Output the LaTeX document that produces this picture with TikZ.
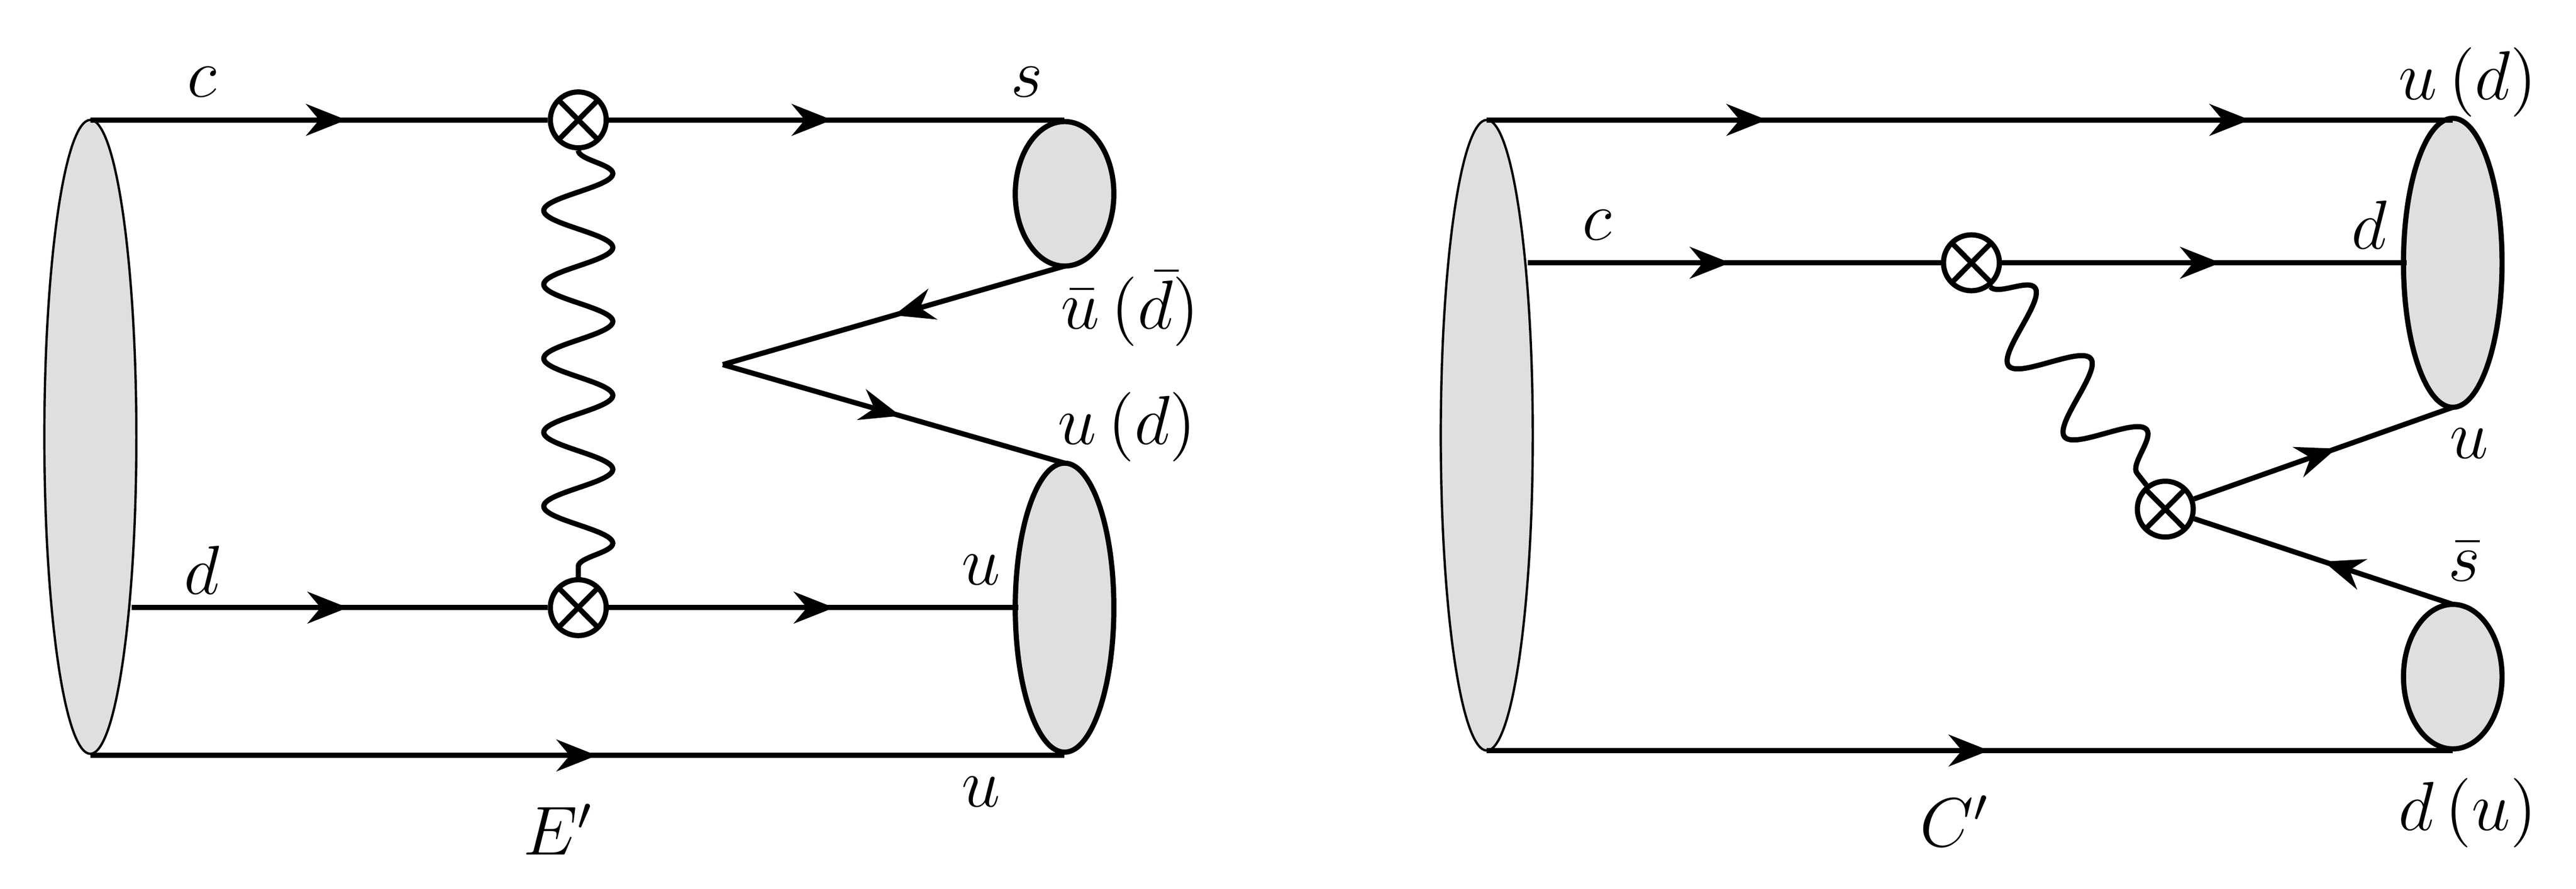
\documentclass[tikz,border=0pt]{standalone}
\usetikzlibrary{arrows.meta,decorations.markings,decorations.pathmorphing}
\begin{document}
\begin{tikzpicture}[x=0.01cm,y=-0.01cm,
  fer/.style={line width=0.9pt},
  arrat/.style={postaction={decorate,decoration={markings,mark=at position #1 with {\arrow{Stealth[length=7pt,width=5.5pt]}}}}},
  blob/.style={fill=gray!25,draw,line width=0.9pt},
  bigblob/.style={fill=gray!25,draw,line width=0.4pt},
  vtx/.style={circle,draw,fill=white,line width=0.9pt,minimum size=0.34cm,inner sep=0pt,
    path picture={\draw[line width=0.9pt] (path picture bounding box.north west)++(0.07,-0.07) -- ([shift={(-0.07,0.07)}]path picture bounding box.south east)
      ([shift={(0.07,0.07)}]path picture bounding box.south west) -- ([shift={(-0.07,-0.07)}]path picture bounding box.north east);}},
  wave/.style={line width=0.9pt,decorate,decoration={snake,amplitude=0.21cm,segment length=#1}},
  lab/.style={font=\fontsize{12}{14}\selectfont,inner sep=1pt}]
\useasboundingbox (0,0) rectangle (1568,541);
% ---- left ----
\filldraw[bigblob] (55,266) ellipse [x radius=28,y radius=193];
\filldraw[blob] (648,118) ellipse [x radius=30,y radius=44];
\filldraw[blob] (648,370) ellipse [x radius=30,y radius=88];
\coordinate (L1) at (55,73); \coordinate (R1) at (648,73);
\coordinate (L2) at (80,370); \coordinate (R2) at (620,370);
\coordinate (L3) at (55,460); \coordinate (R3) at (648,460);
\coordinate (S1) at (648,162); \coordinate (T) at (440,222); \coordinate (S2) at (648,282);
\node[vtx] (X1) at (352,73) {};
\node[vtx] (X2) at (352,370) {};
\draw[wave=0.45cm] (X1) -- (X2);
\draw[fer,arrat=0.56] (L1) -- (X1);
\draw[fer,arrat=0.49] (X1) -- (R1);
\draw[fer,arrat=0.52] (L2) -- (X2);
\draw[fer,arrat=0.55] (X2) -- (R2);
\draw[fer,arrat=0.52] (L3) -- (R3);
\draw[fer,arrat=0.5] (S1) -- (T);
\draw[fer,arrat=0.52] (T) -- (S2);
\node[lab] (lc) at (123,50) {$c$};
\node[lab] (ls) at (625,50) {$s$};
\node[lab] (lub) at (688,188) {$\bar u\,(\bar d)$};
\node[lab] (lud) at (686,260) {$u\,(d)$};
\node[lab] (ld) at (123,347) {$d$};
\node[lab] (lu) at (597,347) {$u$};
\node[lab] (lu2) at (597,482) {$u$};
\node[lab] (lE) at (340,505) {$E'$};
% ---- right ----
\filldraw[bigblob] (905,265) ellipse [x radius=28,y radius=192];
\filldraw[blob] (1493,160) ellipse [x radius=30,y radius=88];
\filldraw[blob] (1493,412) ellipse [x radius=30,y radius=44];
\coordinate (a1) at (905,73); \coordinate (b1) at (1493,73);
\coordinate (a2) at (930,160); \coordinate (b2) at (1465,160);
\coordinate (a3) at (905,457); \coordinate (b3) at (1493,457);
\coordinate (p1) at (1493,248); \coordinate (p2) at (1493,368);
\node[vtx] (Y1) at (1200,160) {};
\node[vtx] (Y2) at (1318,310) {};
\draw[wave=0.55cm] (Y1) -- (Y2);
\draw[fer,arrat=0.29,arrat=0.79] (a1) -- (b1);
\draw[fer,arrat=0.49] (a2) -- (Y1);
\draw[fer,arrat=0.54] (Y1) -- (b2);
\draw[fer,arrat=0.52] (a3) -- (b3);
\draw[fer,arrat=0.55] (Y2) -- (p1);
\draw[fer,arrat=0.5] (p2) -- (Y2);
\node[lab] (rud) at (1502,50) {$u\,(d)$};
\node[lab] (rc) at (972,137) {$c$};
\node[lab] (rd) at (1442,137) {$d$};
\node[lab] (ru) at (1503,270) {$u$};
\node[lab] (rs) at (1500,342) {$\bar s$};
\node[lab] (rdu) at (1502,495) {$d\,(u)$};
\node[lab] (rC) at (1190,500) {$C'$};
\end{tikzpicture}
\end{document}
